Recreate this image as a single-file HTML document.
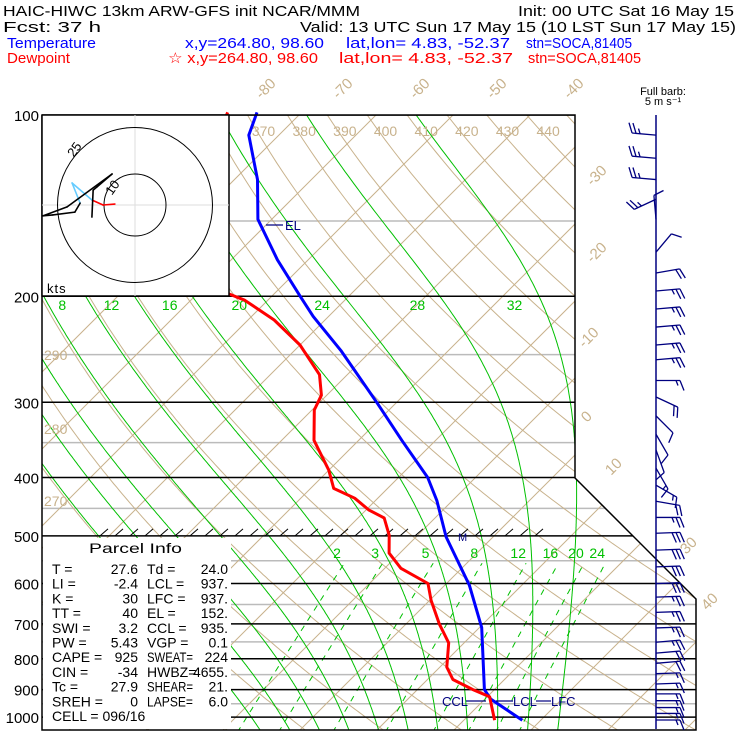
<!DOCTYPE html>
<html><head><meta charset="utf-8"><title>Skew-T</title>
<style>
html,body{margin:0;padding:0;background:#fff;}
svg{display:block;font-family:"Liberation Sans",sans-serif;}
</style></head>
<body>
<svg id="chart" width="740" height="740" viewBox="0 0 740 740" xmlns="http://www.w3.org/2000/svg">
<defs><clipPath id="plotclip"><polygon points="42,115 575,115 575,478 696,599 696,730 42,730"/></clipPath></defs>
<g id="header" font-size="15">
<text x="3" y="16" textLength="357" lengthAdjust="spacingAndGlyphs">HAIC-HIWC 13km ARW-GFS init    NCAR/MMM</text>
<text x="518" y="16" textLength="216" lengthAdjust="spacingAndGlyphs">Init: 00 UTC Sat 16 May 15</text>
<text x="3" y="32" textLength="98" lengthAdjust="spacingAndGlyphs">Fcst:    37 h</text>
<text x="300" y="32" textLength="436" lengthAdjust="spacingAndGlyphs">Valid: 13 UTC Sun 17 May 15 (10 LST Sun 17 May 15)</text>
<g fill="#0000ff">
<text x="7" y="48" textLength="89" lengthAdjust="spacingAndGlyphs">Temperature</text>
<text x="185" y="48" textLength="139" lengthAdjust="spacingAndGlyphs">x,y=264.80, 98.60</text>
<text x="346" y="48" textLength="164" lengthAdjust="spacingAndGlyphs">lat,lon=  4.83, -52.37</text>
<text x="526" y="48" textLength="106" lengthAdjust="spacingAndGlyphs">stn=SOCA,81405</text>
</g>
<g fill="#ff0000">
<text x="7" y="63" textLength="63" lengthAdjust="spacingAndGlyphs">Dewpoint</text>
<text x="168" y="63" textLength="150" lengthAdjust="spacingAndGlyphs">☆ x,y=264.80, 98.60</text>
<text x="339" y="63" textLength="174" lengthAdjust="spacingAndGlyphs">lat,lon=  4.83, -52.37</text>
<text x="528" y="63" textLength="113" lengthAdjust="spacingAndGlyphs">stn=SOCA,81405</text>
</g>
</g>
<g id="bg" clip-path="url(#plotclip)"></g>
<g id="fg"></g>
</svg>
<script>
// ---- data ----
const isobarLevels=[100,200,300,400,500,600,700,800,900,1000];
const midIsobars=[150,250,350,450,550,650,750,850,950];
const isotherms=[-130,-120,-110,-100,-90,-80,-70,-60,-50,-40,-30,-20,-10,0,10,20,30,40,50];
const topIsoLabels=[-80,-70,-60,-50,-40];
const rightIsoLabels=[-30,-20,-10,0,10,30,40];
const dryThetas=[250,260,270,280,290,300,310,320,330,340,350,360,370,380,390,400,410,420,430,440,450,460,470,480];
const topThetaLabels=[370,380,390,400,410,420,430,440];
const leftThetaLabels=[290,280,270];
const moistThetaW=[-8,-4,0,4,8,12,16,20,24,28,32];
const moistLabels=[8,12,16,20,24,28,32];
const mixRatios=[2,3,5,8,12,16,20,24];
const tempP=[1012,934,900,710,604,502,437,400,347,300,246,216,200,174,149,128,108,99];
const tempT=[27.6,20.8,18.7,10.3,3.2,-6.1,-12,-16.2,-24.4,-32.6,-44,-52,-56.3,-64,-71.8,-77,-83.9,-85.8];
const dewP=[1012,925,900,866,826,753,700,640,600,566,534,499,467,453,433,417,389,347,309,292,270,241,219,203,198,188,159,140,127,119,109,99];
const dewT=[24.0,20.3,17.2,13.3,10.9,8.0,4.3,0.2,-2.4,-7.9,-11.4,-13.7,-16.6,-19.6,-23,-27,-30,-35.8,-39.7,-40.7,-43.6,-50,-56.6,-63,-66,-68,-75.4,-82,-86,-87,-87.8,-89.6];
const barbP=[108,118,128,138,149,169,183,196,210,225,241,255,276,294,316,339,360,386,412,438,466,495,528,563,600,632,670,711,751,783,814,847,881,915,939,964,986,1011];
const barbSpd=[14,14,12,12,6,5,10,12,12,12,12,12,8,10,6,6,6,7,8,10,12,15,15,16,15,13,12,12,12,10,10,9,9,8,8,8,7,7];
const barbDir=[275,275,275,245,355,40,80,85,85,85,85,85,90,115,135,150,160,150,120,100,90,88,88,88,88,88,88,88,85,85,85,88,88,90,90,90,90,90];
const hodoU=[-6.5,-10.3,-13.9,-20.3,-17.7,-19.4,-26.5,-29.7,-21.9,-7.4,-12.3,-13.5,-13.9];
const hodoV=[0.3,0,1.6,7.1,0.6,-2.3,-3.2,-3.5,-0.6,10,5.8,4.8,-3.9];
const hodoColor=['#ff0000','#ff0000','#66ccff','#66ccff','#000000','#000000','#000000','#000000','#000000','#000000','#000000','#000000'];
const parcelRows=[["T  =","27.6","Td =","24.0"],["LI =","-2.4","LCL =","937."],["K  =","30","LFC =","937."],["TT =","40","EL   =","152."],["SWI =","3.2","CCL =","935."],["PW =","5.43","VGP =","0.1"],["CAPE =","925","SWEAT=","224"],["CIN =","-34","HWBZ=","4655."],["Tc =","27.9","SHEAR=","21."],["SREH =","0","LAPSE=","6.0"]];

// ---- axes ----
const Y=p=>115+261.5*Math.log(p/100);
const X=(T,p)=>313+7.7*T+(717-Y(p));
const NS='http://www.w3.org/2000/svg';
const bg=document.getElementById('bg'), fg=document.getElementById('fg');
function el(tag,attrs,parent){const e=document.createElementNS(NS,tag);for(const k in attrs)e.setAttribute(k,attrs[k]);(parent||bg).appendChild(e);return e;}
function pts(arr){return arr.map(a=>a[0].toFixed(1)+','+a[1].toFixed(1)).join(' ');}
const TAN='#c8b28c', GRN='#00c000', NAVY='#000080';
const pressuresFine=[];for(let p=1060;p>=95;p-=5)pressuresFine.push(p);

midIsobars.forEach(p=>{const l=el('line',{x1:42,x2:700,y1:Y(p),y2:Y(p),stroke:'#bbbbbb','stroke-width':1.5});

});
isotherms.forEach(T=>{const l=el('line',{x1:X(T,1060),y1:Y(1060),x2:X(T,90),y2:Y(90),stroke:TAN,'stroke-width':1});

});
dryThetas.forEach(th=>{const a=pressuresFine.map(p=>[X(th*Math.pow(p/1000,0.2857)-273.15,p),Y(p)]);
const l=el('polyline',{points:pts(a),fill:'none',stroke:TAN,'stroke-width':1});

});
function es(Tc){return 6.112*Math.exp(17.67*Tc/(Tc+243.5));}
function dTdp(Tk,p){const Tc=Tk-273.15;const e=es(Tc);const rs=0.622*e/(p-e);const Lv=2.5e6,Rd=287,Cp=1004;
return (Rd*Tk+Lv*rs)/(p*(Cp+Lv*Lv*rs*0.622/(Rd*Tk*Tk)));}
function moist(thw){let T=thw+273.15;const up=[];for(let q=1000;q>=100;q-=2){if(q<1000){T-=dTdp(T,q+1)*2;}up.push([q,T]);}
let T2=thw+273.15;const dn=[];for(let q=1000;q<=1060;q+=2){if(q>1000)T2+=dTdp(T2,q-1)*2;dn.push([q,T2]);}
return dn.reverse().concat(up.slice(1));}
const moistCache={};
moistThetaW.forEach(tw=>{const c=moist(tw);moistCache[tw]=c;
const l=el('polyline',{points:pts(c.map(a=>[X(a[1]-273.15,a[0]),Y(a[0])])),fill:'none',stroke:GRN,'stroke-width':1});

});
function tdFromW(w,p){const e=w*p/(622+w);const l=Math.log(e/6.112);return 243.5*l/(17.67-l);}
mixRatios.forEach(w=>{const a=[];for(let p=1060;p>=555;p-=5)a.push([X(tdFromW(w,p),p),Y(p)]);
const l=el('polyline',{points:pts(a),fill:'none',stroke:GRN,'stroke-width':1,'stroke-dasharray':'6,6'});

});
isobarLevels.forEach(p=>{const l=el('line',{x1:42,x2:700,y1:Y(p),y2:Y(p),stroke:'#000','stroke-width':1.5});

});

const lab=el('g',{'font-size':15,fill:TAN},fg);
topIsoLabels.forEach(T=>{const x=X(T,100)-30,y=92;const t=el('text',{x:x,y:y,transform:`rotate(-45 ${x} ${y})`,'text-anchor':'middle'},lab);t.textContent=T;

});
const rightLabelX=[600,600,592,590,617,692,713];
rightIsoLabels.forEach((T,i)=>{const x=rightLabelX[i];const y=313+7.7*T+717-x-20;const t=el('text',{x:x,y:y,transform:`rotate(-45 ${x} ${y})`,'text-anchor':'middle'},lab);t.textContent=T;

});
topThetaLabels.forEach(th=>{const T=th*Math.pow(0.107,0.2857)-273.15;const x=X(T,107)-35;const t=el('text',{x:x,y:136,'text-anchor':'middle'},bg);t.setAttribute('fill',TAN);t.setAttribute('font-size','14');t.textContent=th;

});
const leftThetaY=[360,434,506];
leftThetaLabels.forEach((th,i)=>{const t=el('text',{x:44,y:leftThetaY[i],fill:TAN,'font-size':14},bg);t.textContent=th;

});
moistLabels.forEach(tw=>{const c=moistCache[tw];let pt=c[0];for(const a of c){if(a[0]<=206){pt=a;break;}}
const t=el('text',{x:X(pt[1]-273.15,pt[0])-28,y:310,fill:GRN,'font-size':14,'text-anchor':'middle'},bg);t.textContent=tw;

});
mixRatios.forEach(w=>{const t=el('text',{x:X(tdFromW(w,540),540)-12,y:558,fill:GRN,'font-size':14,'text-anchor':'middle'},bg);t.textContent=w;

});

for(let x=100;x<=545;x+=15){const h=el('line',{x1:x,y1:Y(500),x2:x+8,y2:Y(500)-7,stroke:'#000','stroke-width':1},fg);

}

const tline=el('polyline',{points:pts(tempP.map((p,i)=>[X(tempT[i],p),Y(p)])),fill:'none',stroke:'#0000ff','stroke-width':3,'stroke-linejoin':'round'},fg);


const dline=el('polyline',{points:pts(dewP.map((p,i)=>[X(dewT[i],p),Y(p)])),fill:'none',stroke:'#ff0000','stroke-width':3,'stroke-linejoin':'round'},fg);



const frame=el('polyline',{points:'42,115 575,115 575,478 696,599 696,730 42,730 42,115',fill:'none',stroke:'#000','stroke-width':1.5},fg);



const hb=el('rect',{x:42,y:115,width:187,height:181,fill:'#fff',stroke:'#000','stroke-width':1.5},fg);


const hc=[135,205];
el('line',{x1:42,x2:229,y1:hc[1],y2:hc[1],stroke:'#dddddd','stroke-width':1},fg);
el('line',{x1:hc[0],x2:hc[0],y1:115,y2:296,stroke:'#dddddd','stroke-width':1},fg);
[10,25].forEach(r=>{const c=el('circle',{cx:hc[0],cy:hc[1],r:r*3.1,fill:'none',stroke:'#000','stroke-width':1},fg);

});
const r25=el('text',{x:78,y:152,'font-size':13,transform:'rotate(-55 78 152)','text-anchor':'middle'},fg);r25.textContent='25';


const r10=el('text',{x:116,y:190,'font-size':13,transform:'rotate(-55 116 190)','text-anchor':'middle'},fg);r10.textContent='10';


for(let i=0;i<hodoU.length-1;i++){const s=el('line',{x1:hc[0]+hodoU[i]*3.1,y1:hc[1]-hodoV[i]*3.1,x2:hc[0]+hodoU[i+1]*3.1,y2:hc[1]-hodoV[i+1]*3.1,stroke:hodoColor[i],'stroke-width':1.6,'stroke-linecap':'round'},fg);

}
const kts=el('text',{x:47,y:293,'font-size':13,'letter-spacing':'1'},fg);kts.textContent='kts';



const pb=el('rect',{x:43,y:538,width:188,height:191,fill:'#fff'},fg);


const pt=el('text',{x:89,y:553,'font-size':14,textLength:93,lengthAdjust:'spacingAndGlyphs'},fg);pt.textContent='Parcel Info';


parcelRows.forEach((r,i)=>{const y=574+i*14.7;
const g=el('g',{'font-size':14},fg);


el('text',{x:52,y:y},g).textContent=r[0];
el('text',{x:138,y:y,'text-anchor':'end'},g).textContent=r[1];
const l2=el('text',{x:147,y:y},g);l2.textContent=r[2];
if(r[2].length>=5&&r[2].indexOf(' ')<0&&r[2].length>5){l2.setAttribute('textLength',46);l2.setAttribute('lengthAdjust','spacingAndGlyphs');}
el('text',{x:228,y:y,'text-anchor':'end'},g).textContent=r[3];});
const cell=el('text',{x:52,y:721,'font-size':14},fg);cell.textContent='CELL = 096/16';



isobarLevels.forEach(p=>{const t=el('text',{x:39,y:Y(p)+6,'font-size':15,'text-anchor':'end'},fg);t.textContent=p;

});

const nv=el('g',{fill:NAVY,stroke:NAVY,'font-size':13},fg);
el('line',{x1:266,x2:283,y1:225,y2:225,'stroke-width':1.2},nv);
const elt=el('text',{x:285,y:230,stroke:'none'},nv);elt.textContent='EL';


const cc=el('text',{x:442,y:706,stroke:'none'},nv);cc.textContent='CCL';


el('line',{x1:466,x2:486,y1:701,y2:701,'stroke-width':1.2},nv);
el('line',{x1:496,x2:513,y1:701,y2:701,'stroke-width':1.2},nv);
const lc=el('text',{x:513,y:706,stroke:'none'},nv);lc.textContent='LCL';


el('line',{x1:536,x2:551,y1:701,y2:701,'stroke-width':1.2},nv);
const lf=el('text',{x:551,y:706,stroke:'none'},nv);lf.textContent='LFC';


const mm=el('text',{x:458,y:541,stroke:'none','font-size':11},nv);mm.textContent='M';



const fb=el('text',{x:663,y:95,'font-size':11,'text-anchor':'middle'},fg);fb.textContent='Full barb:';


const fb2=el('text',{x:663,y:105,'font-size':11,'text-anchor':'middle'},fg);fb2.textContent='5 m s\u207B\u00B9';


const staff=el('line',{x1:656,x2:656,y1:115,y2:729,stroke:NAVY,'stroke-width':1.5},fg);


const bgp=el('g',{stroke:NAVY,'stroke-width':1.3,fill:'none'},fg);
barbP.forEach((p,i)=>{const y0=Y(p),x0=656;const d=barbDir[i]*Math.PI/180;const sx=Math.sin(d),sy=-Math.cos(d);const L=24;
const g=el('g',{},bgp);


el('line',{x1:x0,y1:y0,x2:x0+sx*L,y2:y0+sy*L},g);
let spd=barbSpd[i];let pos=L;const px=-sy,py=sx;
while(spd>=4.5){const bx=x0+sx*pos,by=y0+sy*pos;el('line',{x1:bx,y1:by,x2:bx+px*10+sx*4,y2:by+py*10+sy*4},g);pos-=4;spd-=5;}
if(spd>=1.5){const bx=x0+sx*pos,by=y0+sy*pos;el('line',{x1:bx,y1:by,x2:bx+px*5+sx*2,y2:by+py*5+sy*2},g);}
});
</script>
</body></html>
